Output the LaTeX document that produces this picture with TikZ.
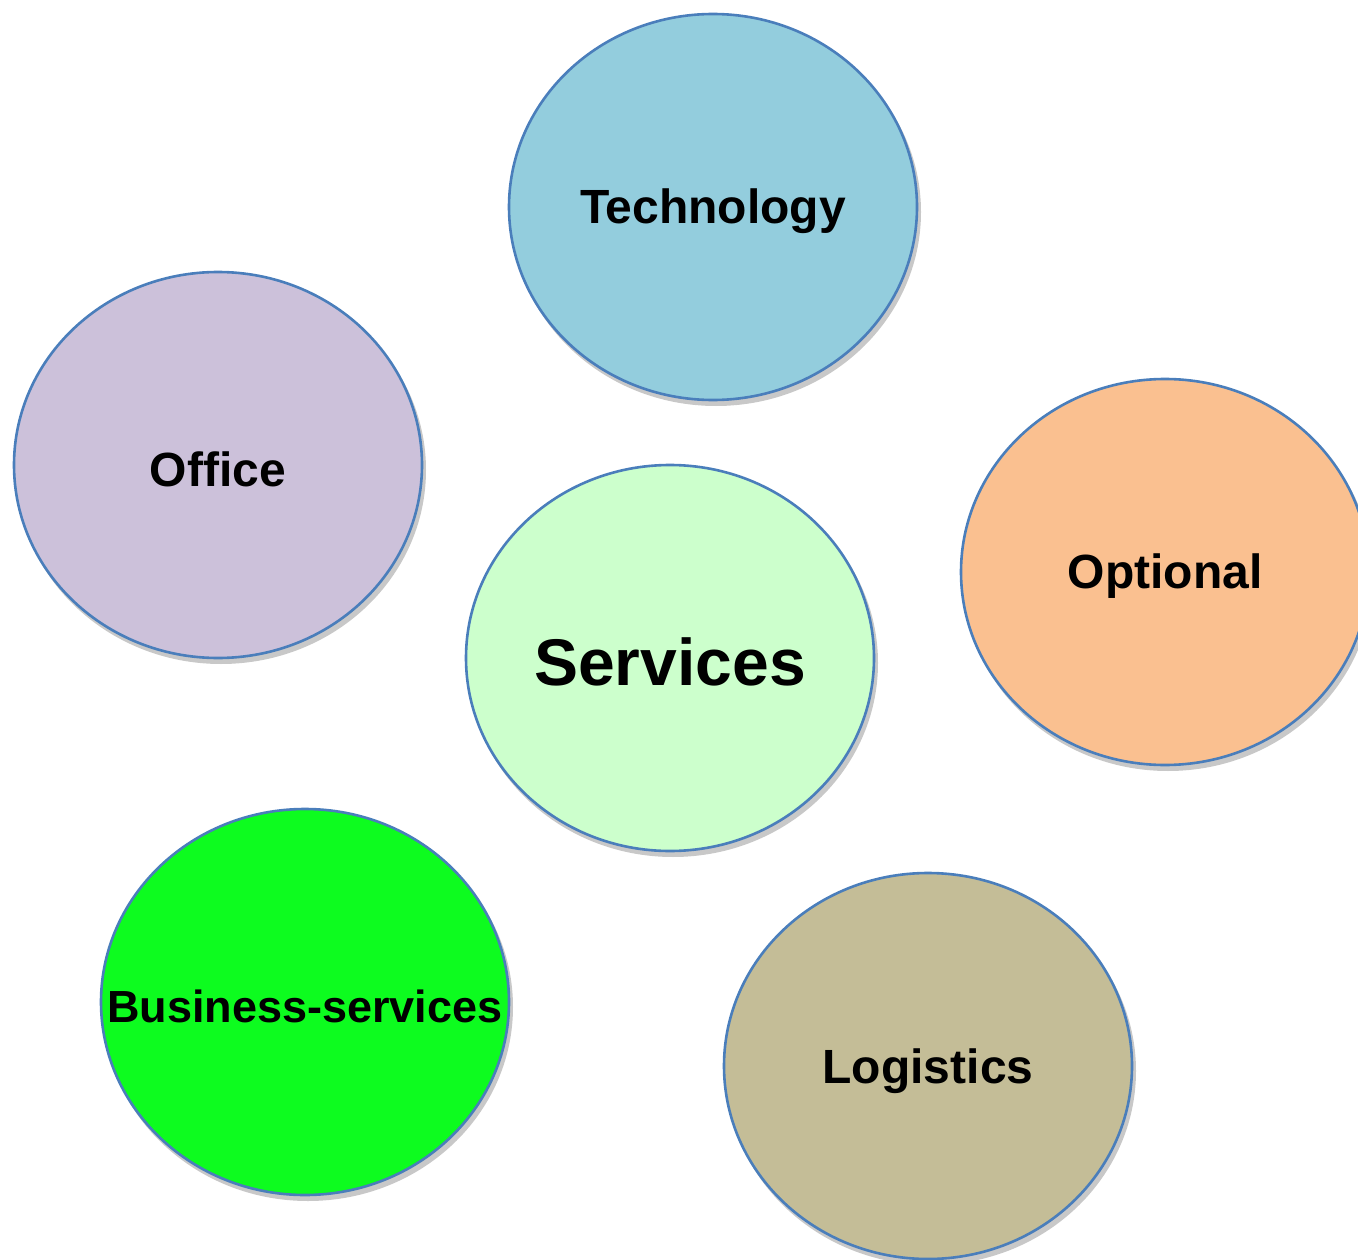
\documentclass[tikz,border=0pt]{standalone}
\usepackage{fontspec}
\setmainfont{Liberation Sans}
\usetikzlibrary{shapes.geometric}
\definecolor{edgeblue}{HTML}{4A7EBB}
\definecolor{shadowgrey}{HTML}{C8C8C8}
\definecolor{techfill}{HTML}{93CDDD}
\definecolor{officefill}{HTML}{CCC1DA}
\definecolor{optfill}{HTML}{FAC090}
\definecolor{servfill}{HTML}{CCFFCC}
\definecolor{busfill}{HTML}{0DFC1F}
\definecolor{logfill}{HTML}{C4BD97}
\tikzset{
  bubble/.style={ellipse, draw=edgeblue, line width=2.6pt, minimum width=408pt, minimum height=386pt, inner sep=0pt},
  bubshadow/.style={ellipse, fill=shadowgrey, draw=none, minimum width=410pt, minimum height=388pt, inner sep=0pt},
  bubtext/.style={inner sep=0pt, font=\fontsize{48}{50}\selectfont\bfseries, text=black}
}
\begin{document}
\begin{tikzpicture}[x=1pt,y=-1pt]
\useasboundingbox (0,0) rectangle (1358,1260);
\clip (0,0) rectangle (1358,1260);
% shadows
\foreach \cx/\cy in {713/207, 218/465, 1165/572, 670/658, 305/1002, 928/1066}
  \node[bubshadow] at (\cx+3,\cy+5) {};
\node[bubble, fill=techfill] (tech) at (713,207) {};
\node[bubble, fill=officefill] (office) at (218,465) {};
\node[bubble, fill=optfill] (opt) at (1165,572) {};
\node[bubble, fill=servfill] (serv) at (670,658) {};
\node[bubble, fill=busfill] (bus) at (305,1002) {};
\node[bubble, fill=logfill] (log) at (928,1066) {};
\node[bubtext] (techt) at (713,211) {Technology};
\node[bubtext] (officet) at (218,469) {Office};
\node[bubtext] (optt) at (1165,576) {Optional};
\node[bubtext, font=\fontsize{66}{70}\selectfont\bfseries] (servt) at (670,662) {Services};
\node[bubtext, font=\fontsize{45}{48}\selectfont\bfseries] (bust) at (305,1006) {Business-services};
\node[bubtext] (logt) at (928,1071) {Logistics};
\end{tikzpicture}
\end{document}
